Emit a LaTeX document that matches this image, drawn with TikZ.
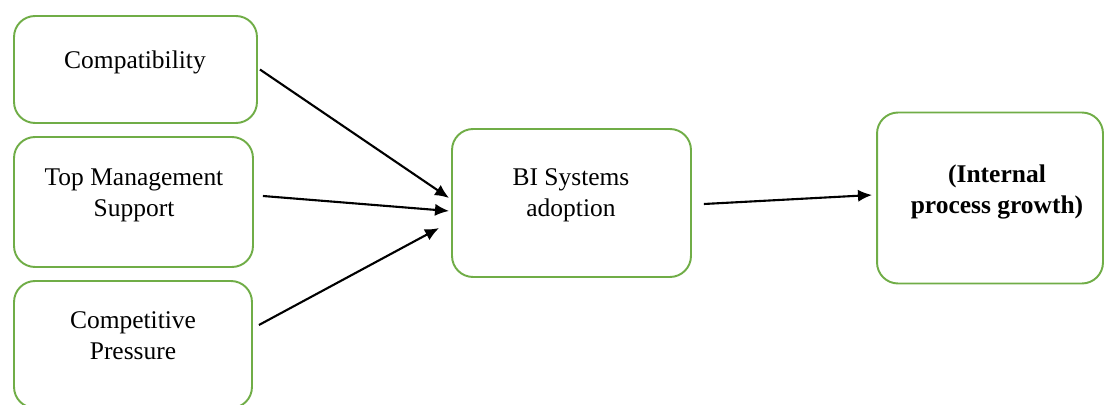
\documentclass[tikz,border=0pt]{standalone}
\usepackage{fontspec}
\setmainfont{Liberation Serif}
\usetikzlibrary{calc,arrows.meta}
\definecolor{boxgreen}{RGB}{112,173,71}

\begin{document}
\begin{tikzpicture}
  [x=0.02cm,y=-0.02cm,
   box/.style={draw=boxgreen,line width=1.1pt,rounded corners=0.42cm,inner sep=0pt},
   txt/.style={align=center,font=\fontsize{14.5}{17.5}\selectfont},
   arr/.style={-{Latex[length=8pt,width=7pt]},line width=1.2pt}]
  \useasboundingbox (0,0) rectangle (1105,405);
  \node[box,minimum width=4.86cm,minimum height=2.14cm] (compat) at (135.5,69.5) {};
  \node[box,minimum width=4.78cm,minimum height=2.6cm] (topmgmt) at (133.5,202) {};
  \node[box,minimum width=4.76cm,minimum height=2.54cm] (compet) at (133,344.5) {};
  \node[box,minimum width=4.78cm,minimum height=2.96cm] (bi) at (571.5,203) {};
  \node[box,minimum width=4.52cm,minimum height=3.42cm] (growth) at (990,198) {};

  \node[txt] (compatT) at (135,62) {Compatibility};
  \node[txt] (topmgmtT) at (134,195) {Top Management\\Support};
  \node[txt] (competT) at (133,336) {Competitive\\Pressure};
  \node[txt] (biT) at (571,195) {BI Systems\\adoption};
  \node[txt,font=\fontsize{14.5}{17.5}\selectfont\bfseries] (growthT) at (997,192) {(Internal\\process growth)};

  \draw[arr] ($(compat.east)+(2,0)$) -- ($(bi.west)+(-2,-5)$);
  \draw[arr] ($(topmgmt.east)+(9,-6)$) -- ($(bi.west)+(-2,8)$);
  \draw[arr] ($(compet.east)+(6,-19.5)$) -- ($(bi.west)+(-12,25)$);
  \draw[arr] ($(bi.east)+(12,1)$) -- ($(growth.west)+(-4,-3)$);

\end{tikzpicture}
\end{document}
